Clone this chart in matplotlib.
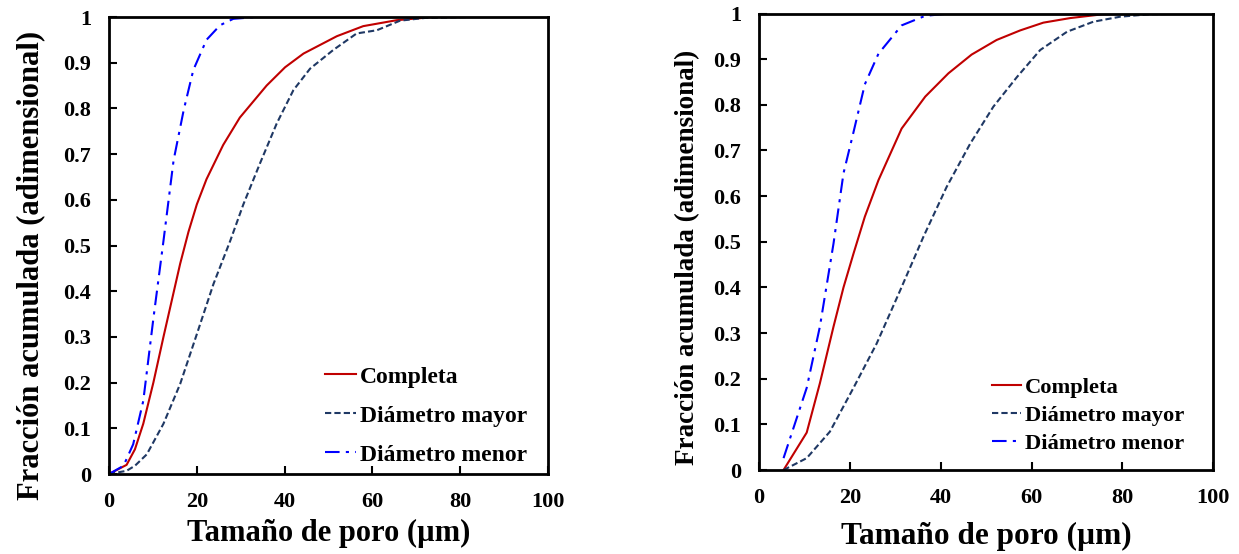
# Cumulative pore-size distribution, two panels
import matplotlib.pyplot as plt
from matplotlib.ticker import FuncFormatter

plt.rcParams['font.family'] = ['Liberation Serif', 'DejaVu Serif']
plt.rcParams['font.weight'] = 'bold'

# Left panel data
left_completa_x = [0, 4.0, 5.9, 7.8, 10.1, 12.4, 14.3, 16.2, 18.1, 20.0, 22.2, 26.0,
                   29.8, 35.9, 40.1, 44.3, 51.9, 57.9, 65.5, 73.9, 82]
left_completa_y = [0, 0.02, 0.054, 0.11, 0.20, 0.30, 0.38, 0.46, 0.53, 0.59, 0.645, 0.72,
                   0.78, 0.85, 0.89, 0.92, 0.958, 0.98, 0.993, 1.0, 1.0]

left_mayor_x = [0, 4, 5.9, 8.6, 12.4, 16.2, 20, 23.8, 27.6, 30.6, 34.4, 38.2,
                42, 45.8, 51.1, 56.4, 61, 66.3, 72, 82]
left_mayor_y = [0, 0.007, 0.018, 0.043, 0.11, 0.197, 0.306, 0.416, 0.51, 0.59, 0.68, 0.767,
                0.84, 0.887, 0.928, 0.964, 0.971, 0.992, 0.998, 1.0]

left_menor_x = [0, 3.3, 5.5, 7.8, 10.1, 12.4, 14.7, 17.0, 19.2, 22.2, 25.3, 28.3, 33.6]
left_menor_y = [0, 0.018, 0.065, 0.16, 0.34, 0.51, 0.686, 0.796, 0.884, 0.95, 0.982, 0.996, 1.0]

# Right panel data
right_completa_x = [5.4, 10.5, 13.4, 16.4, 18.6, 20.8, 23.3, 26.3, 31.4, 36.6, 41.7, 46.8,
                    52.3, 57.5, 62.6, 68.5, 75.8, 85, 100]
right_completa_y = [0, 0.082, 0.19, 0.314, 0.40, 0.474, 0.555, 0.635, 0.748, 0.818, 0.869, 0.91,
                    0.942, 0.963, 0.98, 0.99, 0.9985, 1.0, 1.0]

right_mayor_x = [5.4, 10.5, 15.6, 20.8, 25.9, 31.1, 36.2, 41.3, 46.5, 51.6, 56.8, 61.9,
                 67.8, 73.6, 79.5, 86.1, 100]
right_mayor_y = [0, 0.026, 0.084, 0.18, 0.277, 0.394, 0.511, 0.62, 0.715, 0.796, 0.861, 0.92,
                 0.96, 0.982, 0.993, 0.9985, 1.0]

right_menor_x = [5.4, 10.5, 13.4, 16.4, 18.6, 20.8, 23.3, 26.3, 31.4, 36.6, 42, 100]
right_menor_y = [0.026, 0.18, 0.314, 0.496, 0.65, 0.74, 0.845, 0.912, 0.974, 0.995, 1.0, 1.0]

labels = ["Completa", "Diámetro mayor", "Diámetro menor"]
x_ticks = [0, 20, 40, 60, 80, 100]
y_ticks = [0, 0.1, 0.2, 0.3, 0.4, 0.5, 0.6, 0.7, 0.8, 0.9, 1]

red = "#C00000"
navy = "#1F3864"
blue = "#0000FF"

fig = plt.figure(figsize=(12.39, 5.54), dpi=100)
ax1 = fig.add_axes([0.088, 0.1444, 0.3543, 0.8249])
ax2 = fig.add_axes([0.6126, 0.1516, 0.3666, 0.824])


def style(ax, xlabel_size, xlabel_pad, ylabel_size, ylabel_pos, legend_size, spacing, anchor):
    ax.set_xlim(0, 100)
    ax.set_ylim(0, 1)
    ax.set_xticks(x_ticks)
    ax.set_yticks(y_ticks)
    ax.yaxis.set_major_formatter(FuncFormatter(lambda v, p: f"{v:g}"))
    ax.tick_params(direction='in', length=6, width=1.5, labelsize=16, pad=13,
                   top=False, right=False)
    for s in ax.spines.values():
        s.set_linewidth(2)
    ax.set_xlabel("Tamaño de poro (µm)", fontsize=xlabel_size, fontweight='bold',
                  labelpad=xlabel_pad)
    ax.set_ylabel("Fracción acumulada (adimensional)", fontsize=ylabel_size,
                  fontweight='bold')
    ax.yaxis.set_label_coords(*ylabel_pos)
    ax.legend(labels, loc='lower right', bbox_to_anchor=anchor, frameon=False,
              handlelength=1.3, handletextpad=0.15,
              labelspacing=spacing, prop={'size': legend_size, 'weight': 'bold'})


ax1.plot(left_completa_x, left_completa_y, color=red, lw=1.5)
ax1.plot(left_mayor_x, left_mayor_y, color=navy, lw=1.5, dashes=(3, 1.5))
ax1.plot(left_menor_x, left_menor_y, color=blue, lw=1.5, dashes=(7, 3, 1.5, 3))
style(ax1, 22, 5, 22, (-0.146, 0.457), 17, 0.74, (1.0, -0.028))

ax2.plot(right_completa_x, right_completa_y, color=red, lw=1.5)
ax2.plot(right_mayor_x, right_mayor_y, color=navy, lw=1.5, dashes=(3, 1.5))
ax2.plot(right_menor_x, right_menor_y, color=blue, lw=1.5, dashes=(7, 3, 1.5, 3))
style(ax2, 22.5, 10, 19.5, (-0.13, 0.466), 16.2, 0.33, (0.98, -0.01))

fig.savefig("out.png", dpi=100)
